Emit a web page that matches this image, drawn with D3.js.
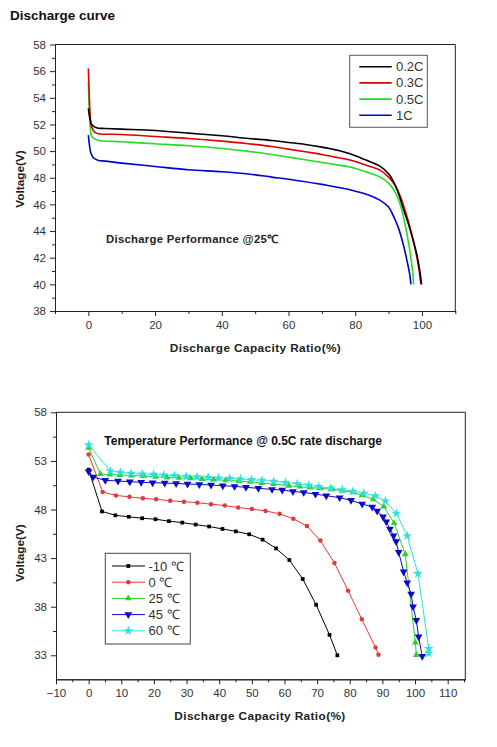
<!DOCTYPE html>
<html>
<head>
<meta charset="utf-8">
<script src="https://cdn.jsdelivr.net/npm/d3@7/dist/d3.min.js"></script>
<style>
  html, body { margin: 0; padding: 0; background: #fff; }
  svg { display: block; }
  text { font-family: "Liberation Sans", Arial, sans-serif; }
</style>
</head>
<body>
<svg id="chart" width="497" height="747"></svg>
<script>
// ---------- Chart 1 data: Discharge Performance @25℃ ----------
const rateSeriesNames = ["0.2C", "0.3C", "0.5C", "1C"];
const rateColors = ["#000000", "#e00000", "#22dd22", "#0000cc"];
const rate02C = [[0,53.2],[0.5,52.4],[1,52.0],[2,51.8],[3,51.72],[5,51.7],[10,51.65],[20,51.55],[30,51.35],[40,51.15],[48,50.95],[55,50.8],[60,50.65],[65,50.5],[70,50.3],[75,50.05],[78.4,49.8],[82,49.45],[85,49.15],[87.5,48.85],[90,48.3],[91.5,47.7],[93,46.8],[94.5,45.6],[96,44.5],[97.5,43.2],[98.5,42.2],[99.3,41.1],[99.9,40.0]];
const rate03C = [[0,56.2],[0.3,54.0],[0.6,52.5],[1,51.8],[2,51.4],[3,51.3],[10,51.25],[20,51.1],[30,50.95],[40,50.75],[48,50.55],[55,50.35],[60,50.15],[65,49.95],[70,49.75],[75,49.5],[78.4,49.33],[82,49.05],[85,48.8],[87.5,48.55],[90,48.05],[92,47.4],[93.5,46.6],[95,45.5],[96.5,44.2],[98,42.6],[99,41.3],[99.7,40.0]];
const rate05C = [[0,55.2],[0.3,53.0],[0.6,51.7],[1,51.1],[2,50.9],[3,50.8],[10,50.7],[20,50.55],[30,50.4],[40,50.2],[48,49.98],[55,49.75],[60,49.55],[65,49.35],[70,49.15],[75,48.95],[78.4,48.8],[82,48.55],[85,48.3],[87.5,48.05],[90,47.6],[92,46.9],[93.5,46.0],[94.5,45.0],[95.5,43.8],[96.5,42.3],[97.2,41.0],[97.5,40.0]];
const rate1C = [[0,51.2],[0.3,50.5],[0.7,49.9],[1.5,49.5],[3,49.3],[5,49.25],[10,49.1],[20,48.85],[30,48.6],[40,48.45],[48,48.28],[55,48.05],[63,47.78],[70,47.5],[78.4,47.1],[84,46.7],[87.5,46.3],[90,45.8],[91.5,45.1],[93,44.2],[94.5,42.9],[95.5,41.8],[96.3,40.8],[96.7,40.0]];
const chart1XTicks = [0, 20, 40, 60, 80, 100];
const chart1XMinor = [-10, 10, 30, 50, 70, 90, 110];
const chart1YTicks = [38, 40, 42, 44, 46, 48, 50, 52, 54, 56, 58];
const chart1YMinor = [39, 41, 43, 45, 47, 49, 51, 53, 55, 57];

// ---------- Chart 2 data: Temperature Performance @ 0.5C ----------
const tempSeriesNames = ["-10 ℃", "0 ℃", "25 ℃", "45 ℃", "60 ℃"];
const tempColors = ["#000000", "#e23a3a", "#2ccf2c", "#0a0ac8", "#30e0e0"];
const tempMinus10 = [[0,52.1],[4.1,47.8],[8.2,47.4],[12.3,47.25],[16.4,47.1],[20.5,47.0],[24.6,46.8],[28.7,46.65],[32.8,46.45],[36.9,46.25],[41,46.0],[45.1,45.75],[49.2,45.45],[53.3,44.9],[57.4,44.0],[61.5,42.8],[65.6,40.85],[69.7,38.2],[73.8,35.1],[76.2,33.0]];
const temp0 = [[0,53.65],[4.3,49.8],[8.4,49.45],[12.5,49.3],[16.6,49.15],[20.7,49.05],[25,48.9],[29.2,48.8],[33.3,48.7],[37.5,48.55],[41.7,48.4],[45.8,48.2],[50,48.05],[54.2,47.85],[58.5,47.55],[62.7,47.05],[66.9,46.3],[71.0,44.8],[75.3,42.5],[79.5,39.65],[83.7,36.7],[87.9,33.8],[88.8,33.05]];
const temp25 = [[0,54.36],[3.6,51.65],[6.5,51.6],[9.5,51.55],[13.2,51.5],[16.9,51.45],[20.5,51.37],[24,51.3],[27.6,51.25],[31.2,51.2],[34.7,51.13],[38.3,51.07],[42,51.0],[46,50.93],[49.5,50.85],[53,50.72],[56.6,50.62],[61.3,50.45],[64.7,50.35],[67.9,50.25],[71,50.18],[74.6,50.08],[77.7,49.93],[81,49.77],[83.8,49.45],[87.2,49.05],[90.4,48.3],[93.6,46.6],[97,43.4],[100.1,34.3],[100.4,33.03]];
const temp45 = [[0,51.9],[1.35,51.35],[5.1,51.0],[9,50.93],[12.6,50.86],[16.1,50.8],[19.6,50.76],[23.3,50.72],[26.8,50.68],[30.3,50.62],[33.9,50.58],[37.5,50.52],[41.1,50.45],[44.7,50.38],[48.2,50.28],[52,50.18],[56.2,50.07],[59.3,50.0],[62.6,49.85],[65.9,49.76],[69.5,49.58],[72.8,49.42],[76.9,49.22],[80.4,48.94],[83.8,48.57],[86.9,48.25],[88.4,47.85],[90.2,47.26],[91.2,46.75],[92.3,46.0],[93.4,45.3],[94.2,44.7],[95,43.6],[96.5,41.6],[97.6,40.47],[98.8,39.3],[99.4,38.0],[100.4,36.6],[101.1,34.9],[102.2,32.9]];
const temp60 = [[0,54.64],[6.65,51.96],[9.7,51.83],[13,51.72],[16.4,51.65],[19.9,51.62],[23,51.55],[26.3,51.48],[29.9,51.4],[33.2,51.35],[36.6,51.3],[39.8,51.24],[43.2,51.2],[46.5,51.14],[49.9,51.07],[53.1,51.0],[56.7,50.9],[60.3,50.78],[63.9,50.65],[67.4,50.5],[70.5,50.35],[74.1,50.18],[77.7,50.03],[81,49.87],[84.3,49.67],[87.9,49.4],[90.9,48.87],[94.3,47.6],[97.6,45.3],[100.9,41.4],[104.2,33.7],[104.2,33.2]];
const chart2XTicks = [-10, 0, 10, 20, 30, 40, 50, 60, 70, 80, 90, 100, 110];
const chart2XMinor = [-5, 5, 15, 25, 35, 45, 55, 65, 75, 85, 95, 105, 115];
const chart2YTicks = [33, 38, 43, 48, 53, 58];
const chart2YMinor = [35.5, 40.5, 45.5, 50.5, 55.5];

const svg = d3.select("#chart");

// Page title
svg.append("text").attr("x", 10).attr("y", 20)
  .attr("font-family", "'Open Sans', 'Liberation Sans', sans-serif")
  .attr("font-size", 13.5).attr("font-weight", "bold").attr("fill", "#111")
  .text("Discharge curve");

function drawAxes(g, x, y, xt, xm, yt, ym, yFmt, left, right, top, bottom) {
  // top & right frame
  g.append("line").attr("x1", left).attr("x2", right).attr("y1", top).attr("y2", top).attr("stroke", "#222").attr("stroke-width", 1);
  g.append("line").attr("x1", right).attr("x2", right).attr("y1", top).attr("y2", bottom).attr("stroke", "#222").attr("stroke-width", 1);
  const xa = g.append("g").attr("transform", `translate(0,${bottom})`)
    .call(d3.axisBottom(x).tickValues(xt).tickSize(5).tickSizeOuter(0).tickPadding(5));
  const xam = g.append("g").attr("transform", `translate(0,${bottom})`)
    .call(d3.axisBottom(x).tickValues(xm).tickSize(3).tickSizeOuter(0).tickFormat(""));
  const ya = g.append("g").attr("transform", `translate(${left},0)`)
    .call(d3.axisLeft(y).tickValues(yt).tickSize(5).tickSizeOuter(0).tickPadding(4).tickFormat(yFmt));
  const yam = g.append("g").attr("transform", `translate(${left},0)`)
    .call(d3.axisLeft(y).tickValues(ym).tickSize(3).tickSizeOuter(0).tickFormat(""));
  [xa, xam, ya, yam].forEach(a => {
    a.selectAll("path").attr("stroke", "#222");
    a.selectAll("line").attr("stroke", "#222");
    a.selectAll("text").attr("font-size", 11.5).attr("fill", "#333")
      .attr("font-family", "'Liberation Sans', Arial, sans-serif");
  });
}

// ---------- Chart 1 ----------
{
  const left = 55, right = 455.3, top = 44.5, bottom = 311;
  const x = d3.scaleLinear().domain([-10, 110]).range([left, right]);
  const y = d3.scaleLinear().domain([38, 58]).range([bottom, top]);
  const g = svg.append("g");
  drawAxes(g, x, y, chart1XTicks, chart1XMinor, chart1YTicks, chart1YMinor, d3.format("d"), left, right, top, bottom);

  const line = d3.line().x(d => x(d[0])).y(d => y(d[1])).curve(d3.curveMonotoneX);
  const series = [rate02C, rate03C, rate05C, rate1C];
  // draw in order so black sits on top like the original
  [3, 2, 1, 0].forEach(i => {
    g.append("path").datum(series[i]).attr("d", d3.line().x(d => x(d[0])).y(d => y(d[1])).curve(d3.curveCatmullRom.alpha(0.5)))
      .attr("fill", "none").attr("stroke", rateColors[i]).attr("stroke-width", 1.6);
  });

  // legend
  const lg = g.append("g");
  lg.append("rect").attr("x", 349.7).attr("y", 55.3).attr("width", 77.6).attr("height", 72)
    .attr("fill", "#fff").attr("stroke", "#555").attr("stroke-width", 1);
  rateSeriesNames.forEach((n, i) => {
    const yy = 66.7 + i * 16.2;
    lg.append("line").attr("x1", 359.3).attr("x2", 391.7).attr("y1", yy).attr("y2", yy)
      .attr("stroke", rateColors[i]).attr("stroke-width", 1.6);
    lg.append("text").attr("x", 396).attr("y", yy + 4.5).attr("font-size", 13).attr("fill", "#333").text(n);
  });

  g.append("text").attr("x", 106).attr("y", 242.5).attr("font-size", 11.3).attr("font-weight", "bold")
    .attr("fill", "#222").attr("letter-spacing", 0.3).text("Discharge Performance @25℃");
  g.append("text").attr("x", (168 + 343) / 2).attr("y", 351.5).attr("text-anchor", "middle")
    .attr("font-size", 11.8).attr("font-weight", "bold").attr("fill", "#222").attr("letter-spacing", 0.4)
    .text("Discharge Capacity Ratio(%)");
  g.append("text").attr("transform", `translate(24,179) rotate(-90)`).attr("text-anchor", "middle")
    .attr("font-size", 11.8).attr("font-weight", "bold").attr("fill", "#222").text("Voltage(V)");
}

// ---------- Chart 2 ----------
{
  const left = 56, right = 465.3, top = 412.3, bottom = 679.3;
  const x = d3.scaleLinear().domain([-10, 115.4]).range([left, right]);
  const y = d3.scaleLinear().domain([30.53, 58]).range([bottom, top]);
  const g = svg.append("g");
  drawAxes(g, x, y, chart2XTicks, chart2XMinor, chart2YTicks, chart2YMinor, d3.format("d"), left, right, top, bottom);

  const series = [tempMinus10, temp0, temp25, temp45, temp60];
  const symbols = [d3.symbolSquare, d3.symbolCircle, d3.symbolTriangle, d3.symbolTriangle, d3.symbolStar];
  const symSizes = [14, 16, 20, 26, 30];
  const line = d3.line().x(d => x(d[0])).y(d => y(d[1]));

  const drawOrder = [0, 1, 2, 3, 4];
  drawOrder.forEach(i => {
    g.append("path").datum(series[i]).attr("d", line)
      .attr("fill", "none").attr("stroke", tempColors[i]).attr("stroke-width", 1);
  });
  drawOrder.forEach(i => {
    const sym = d3.symbol().type(symbols[i]).size(symSizes[i]);
    g.append("g").selectAll("path").data(series[i]).join("path")
      .attr("d", sym)
      .attr("transform", d => `translate(${x(d[0])},${y(d[1])})${i === 3 ? " rotate(180)" : ""}`)
      .attr("fill", tempColors[i]);
  });

  // legend
  const lg = g.append("g");
  lg.append("rect").attr("x", 105.3).attr("y", 553.3).attr("width", 85).attr("height", 90.7)
    .attr("fill", "#fff").attr("stroke", "#444").attr("stroke-width", 1);
  tempSeriesNames.forEach((n, i) => {
    const yy = 566 + i * 16.2;
    lg.append("line").attr("x1", 112).attr("x2", 145).attr("y1", yy).attr("y2", yy)
      .attr("stroke", tempColors[i]).attr("stroke-width", 1);
    lg.append("path").attr("d", d3.symbol().type(symbols[i]).size(symSizes[i]))
      .attr("transform", `translate(128.3,${yy})${i === 3 ? " rotate(180)" : ""}`).attr("fill", tempColors[i]);
    lg.append("text").attr("x", 148.5).attr("y", yy + 4.5).attr("font-size", 13).attr("fill", "#333").text(n);
  });

  g.append("text").attr("x", 104.3).attr("y", 445).attr("font-size", 12).attr("font-weight", "bold")
    .attr("fill", "#111").text("Temperature Performance @ 0.5C rate discharge");
  g.append("text").attr("x", (173 + 347) / 2).attr("y", 720).attr("text-anchor", "middle")
    .attr("font-size", 11.8).attr("font-weight", "bold").attr("fill", "#222").attr("letter-spacing", 0.4)
    .text("Discharge Capacity Ratio(%)");
  g.append("text").attr("transform", `translate(24,553) rotate(-90)`).attr("text-anchor", "middle")
    .attr("font-size", 11.8).attr("font-weight", "bold").attr("fill", "#222").text("Voltage(V)");
}
</script>
</body>
</html>
